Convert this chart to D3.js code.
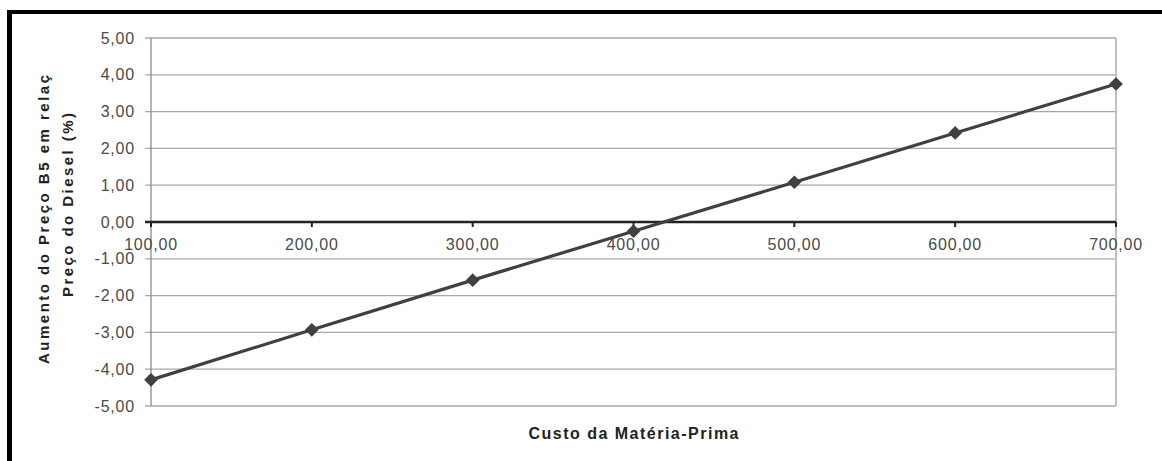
<!DOCTYPE html>
<html>
<head>
<meta charset="utf-8">
<script src="https://cdn.jsdelivr.net/npm/d3@7"></script>
<style>
  html, body { margin: 0; padding: 0; background: #fff; }
  svg { display: block; }
</style>
</head>
<body>
<svg id="chart" width="1162" height="461"></svg>
<script>
// ---- data ----
const categories = [100, 200, 300, 400, 500, 600, 700];
const values = [-4.29, -2.93, -1.58, -0.25, 1.08, 2.42, 3.75];
const yTicks = [5, 4, 3, 2, 1, 0, -1, -2, -3, -4, -5];
const xTitle = "Custo da Matéria-Prima";
const yTitleLines = ["Aumento do Preço B5 em relaç", "Preço do Diesel (%)"];

// ---- layout ----
const svg = d3.select("#chart");
const plot = { left: 151, right: 1116, top: 38, bottom: 406 };
const fmt = d3.formatLocale({ decimal: ",", thousands: ".", grouping: [3], currency: ["", ""], minus: "-" }).format(".2f");

const x = d3.scaleLinear().domain([100, 700]).range([plot.left, plot.right]);
const y = d3.scaleLinear().domain([-5, 5]).range([plot.bottom, plot.top]);

// outer frame (left and top thick bars)
svg.append("rect").attr("x", 7).attr("y", 10).attr("width", 5).attr("height", 461).attr("fill", "#000");
svg.append("rect").attr("x", 7).attr("y", 10).attr("width", 1162).attr("height", 4).attr("fill", "#000");

// gridlines
svg.append("g").selectAll("line").data(yTicks.filter(d => d !== 0)).join("line")
  .attr("x1", plot.left - 6).attr("x2", plot.right)
  .attr("y1", d => y(d)).attr("y2", d => y(d))
  .attr("stroke", "#a8a8a8").attr("stroke-width", 1.3);

// plot area verticals
svg.append("line").attr("x1", plot.left).attr("x2", plot.left)
  .attr("y1", plot.top).attr("y2", plot.bottom).attr("stroke", "#8a8a8a").attr("stroke-width", 1.3);
svg.append("line").attr("x1", plot.right).attr("x2", plot.right)
  .attr("y1", plot.top).attr("y2", plot.bottom).attr("stroke", "#c0c0c0").attr("stroke-width", 2);

// y tick labels
svg.append("g").selectAll("text").data(yTicks).join("text")
  .attr("x", 135).attr("y", d => y(d) + 5.5)
  .attr("text-anchor", "end")
  .attr("font-family", "Liberation Sans, Arial, sans-serif")
  .attr("font-size", 16).attr("letter-spacing", 0.8)
  .attr("fill", "#4a4a4a")
  .text(d => fmt(d));

// zero axis line
svg.append("line").attr("x1", plot.left - 6).attr("x2", plot.right)
  .attr("y1", y(0)).attr("y2", y(0)).attr("stroke", "#222").attr("stroke-width", 2.5);

// x ticks (downward from zero line)
svg.append("g").selectAll("line").data(categories).join("line")
  .attr("x1", d => x(d)).attr("x2", d => x(d))
  .attr("y1", y(0)).attr("y2", y(0) + 5)
  .attr("stroke", "#222").attr("stroke-width", 2);

// x tick labels
svg.append("g").selectAll("text").data(categories).join("text")
  .attr("x", d => x(d)).attr("y", y(0) + 28)
  .attr("text-anchor", "middle")
  .attr("font-family", "Liberation Sans, Arial, sans-serif")
  .attr("font-size", 16).attr("letter-spacing", 0.8)
  .attr("fill", "#4a4a4a")
  .text(d => fmt(d));

// series line
const pts = categories.map((c, i) => [c, values[i]]);
svg.append("path").datum(pts)
  .attr("d", d3.line().x(d => x(d[0])).y(d => y(d[1])))
  .attr("fill", "none").attr("stroke", "#404040").attr("stroke-width", 3.2);

// diamond markers
svg.append("g").selectAll("path").data(pts).join("path")
  .attr("transform", d => `translate(${x(d[0])},${y(d[1])})`)
  .attr("d", d3.symbol().type(d3.symbolDiamond2).size(120))
  .attr("fill", "#404040");

// x axis title
svg.append("text")
  .attr("x", (plot.left + plot.right) / 2).attr("y", 439)
  .attr("text-anchor", "middle")
  .attr("font-family", "Liberation Sans, Arial, sans-serif")
  .attr("font-size", 16).attr("font-weight", "bold")
  .attr("fill", "#222")
  .attr("textLength", 210).attr("lengthAdjust", "spacing")
  .text(xTitle);

// y axis title (two rotated lines)
const yTitlePos = [{ cx: 49, cy: 219.5, len: 289 }, { cx: 72.5, cy: 205, len: 184 }];
yTitleLines.forEach((t, i) => {
  const p = yTitlePos[i];
  svg.append("text")
    .attr("transform", `translate(${p.cx},${p.cy}) rotate(-90)`)
    .attr("text-anchor", "middle")
    .attr("font-family", "Liberation Sans, Arial, sans-serif")
    .attr("font-size", 15).attr("font-weight", "bold")
    .attr("fill", "#222")
    .attr("textLength", p.len).attr("lengthAdjust", "spacing")
    .text(t);
});
</script>
</body>
</html>
